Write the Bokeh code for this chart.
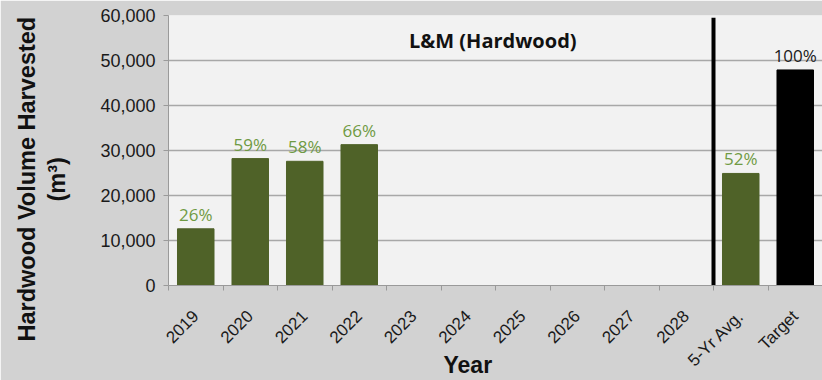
from math import pi
from bokeh.plotting import figure
from bokeh.models import ColumnDataSource, FixedTicker, Label, Range1d, Title
from bokeh.core.properties import value
from bokeh.embed import file_html
from bokeh.resources import INLINE

categories = ["2019", "2020", "2021", "2022", "2023", "2024", "2025",
              "2026", "2027", "2028", "5-Yr Avg.", "Target"]
volumes = [12600, 28200, 27600, 31300, 0, 0, 0, 0, 0, 0, 24900, 47900]
pct_labels = ["26%", "59%", "58%", "66%", "", "", "", "", "", "", "52%", "100%"]
y_ticks = [0, 10000, 20000, 30000, 40000, 50000, 60000]

GREEN = "#4f6228"
LABEL_GREEN = "#6f9a43"

n = len(categories)
centers = [i + 0.5 for i in range(n)]
bar_colors = [("#000000" if c == "Target" else GREEN) for c in categories]
label_colors = [("#1a1a1a" if c == "Target" else LABEL_GREEN) for c in categories]
shown = [v > 0 for v in volumes]

src = ColumnDataSource(dict(x=centers, top=volumes, color=bar_colors))
lab = ColumnDataSource(dict(
    x=[c for c, s in zip(centers, shown) if s],
    y=[v for v, s in zip(volumes, shown) if s],
    text=[t for t, s in zip(pct_labels, shown) if s],
    color=[c for c, s in zip(label_colors, shown) if s],
))

p = figure(width=822, height=380, output_backend="svg", toolbar_location=None,
           x_range=Range1d(0, n), y_range=Range1d(0, 60000),
           min_border_left=168, min_border_right=0, min_border_top=15,
           min_border_bottom=95)
p.background_fill_color = "#f2f2f2"
p.border_fill_color = "#d2d2d2"
p.outline_line_color = None

p.vbar(x="x", top="top", width=0.67, color="color", source=src)
p.text(x="x", y="y", text="text", text_color="color", source=lab,
       text_align="center", text_baseline="bottom", y_offset=-3,
       text_font=value("Open Sans"), text_font_size="17px")

# separator between yearly bars and summary bars
sep_x = categories.index("5-Yr Avg.")
p.segment(x0=[sep_x], y0=[-2000], x1=[sep_x], y1=[59500],
          line_color="black", line_width=4)

# grid
p.xgrid.grid_line_color = None
p.ygrid.ticker = FixedTicker(ticks=y_ticks)
p.ygrid.grid_line_color = "#a8a8a8"
p.ygrid.grid_line_width = 1.5

# y axis
p.yaxis.ticker = FixedTicker(ticks=y_ticks)
p.yaxis.formatter.use_scientific = False
p.yaxis.major_label_overrides = {t: f"{t:,}" for t in y_ticks}
p.yaxis.major_label_text_font = "Liberation Sans"
p.yaxis.major_label_text_font_size = "18px"
p.yaxis.major_label_text_color = "#1a1a1a"
p.yaxis.axis_line_color = "#9a9a9a"
p.yaxis.major_tick_line_color = "#9a9a9a"
p.yaxis.major_tick_out = 5
p.yaxis.major_tick_in = 0
p.yaxis.minor_tick_line_color = None
p.yaxis.major_label_standoff = 8

# x axis
p.xaxis.ticker = FixedTicker(ticks=centers, minor_ticks=list(range(n + 1)))
p.xaxis.major_label_overrides = {c: name for c, name in zip(centers, categories)}
p.xaxis.major_label_orientation = pi / 4
p.xaxis.major_label_text_font = "Liberation Sans"
p.xaxis.major_label_text_font_size = "17px"
p.xaxis.major_label_text_color = "#1a1a1a"
p.xaxis.major_tick_line_color = None
p.xaxis.minor_tick_line_color = "#9a9a9a"
p.xaxis.minor_tick_out = 5
p.xaxis.minor_tick_in = 0
p.xaxis.axis_line_color = "#9a9a9a"
p.xaxis.major_label_standoff = 22

# chart title inside the plot area
p.add_layout(Label(x=5.95, y=54400, text="L&M (Hardwood)", text_align="center",
                   text_baseline="middle", text_font="Open Sans",
                   text_font_style="bold", text_font_size="20px",
                   text_color="#111111"))

# axis titles
title_style = dict(text_font="Liberation Sans", text_font_style="bold",
                   text_color="#111111", align="left")
p.add_layout(Title(text="(m³)", offset=84, standoff=56, text_font_size="23.5px",
                   **title_style), "left")
p.add_layout(Title(text="Hardwood Volume Harvested", offset=-56, standoff=-53,
                   text_font_size="23.5px", **title_style), "left")
p.add_layout(Title(text="Year", offset=275, standoff=-56, text_font_size="23px",
                   vertical_align="top", **title_style), "below")

open("out.html", "w").write(file_html(p, INLINE))
